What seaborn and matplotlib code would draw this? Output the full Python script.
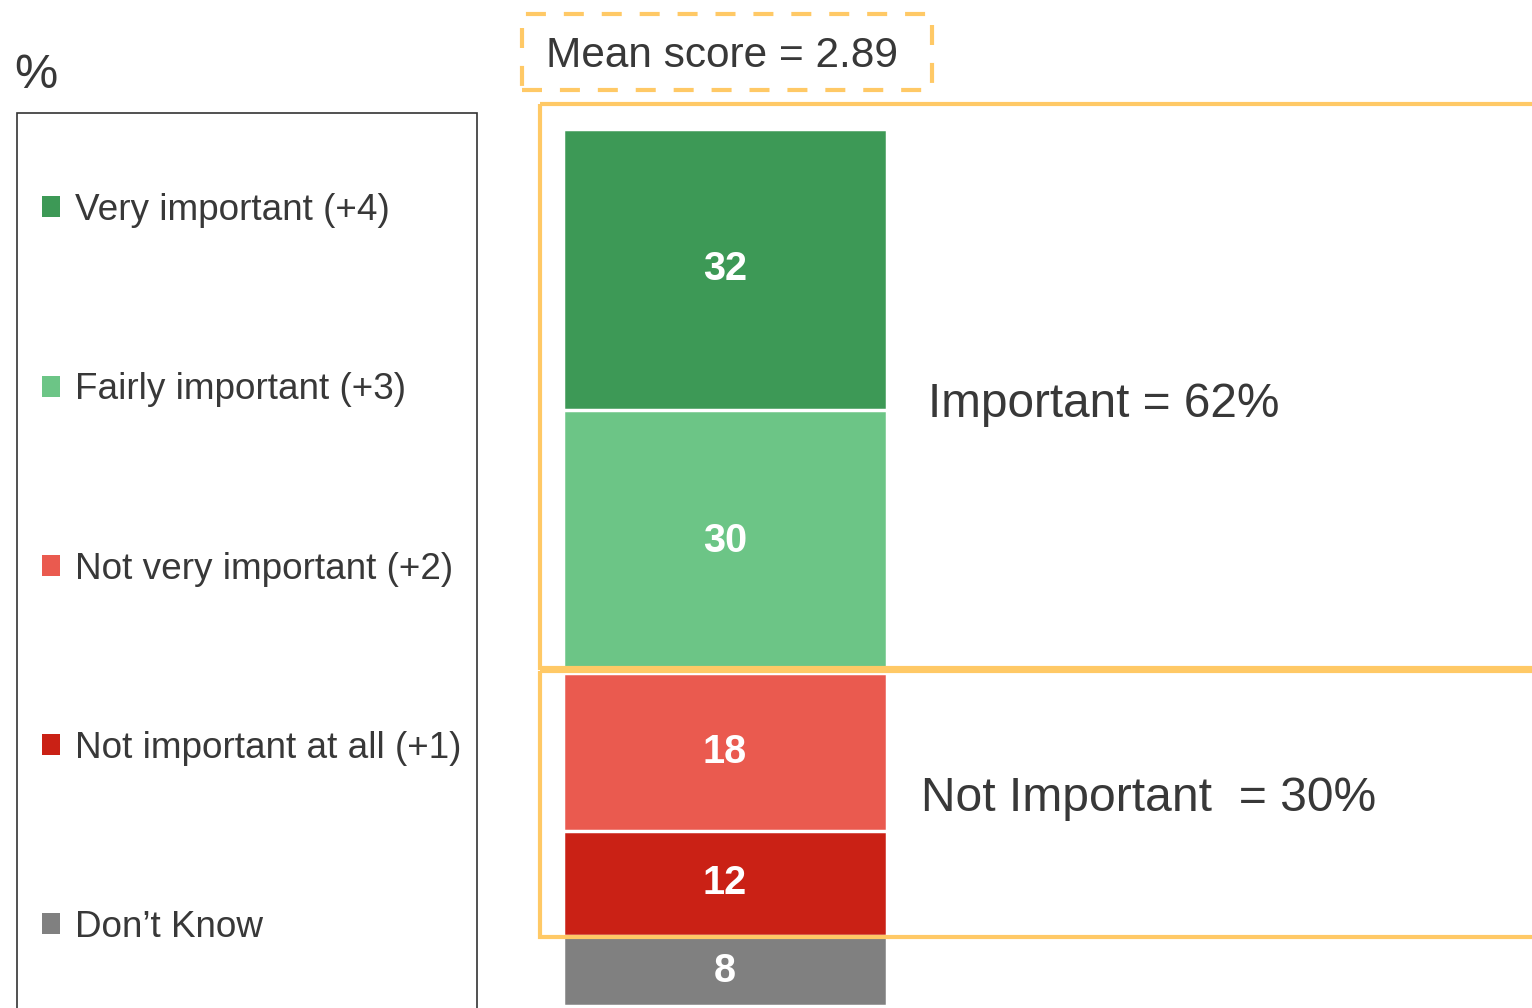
import pandas as pd
import matplotlib.pyplot as plt
import seaborn as sns
from matplotlib.patches import Rectangle, Patch

# chart values
categories = ["Very important (+4)", "Fairly important (+3)", "Not very important (+2)",
              "Not important at all (+1)", "Don\u2019t Know"]
values = [32, 30, 18, 12, 8]
colors = ["#3D9956", "#6CC586", "#EA5A4F", "#CA2115", "#808080"]
mean_score = 2.89
important_pct = 62
not_important_pct = 30

sns.set_style("white")
plt.rcParams['font.family'] = ['Liberation Sans', 'DejaVu Sans']
TXT = "#383838"
ORANGE = "#FFC966"

W, H = 1532, 1008
fig = plt.figure(figsize=(W / 100, H / 100), dpi=100)
ax = fig.add_axes([0, 0, 1, 1])

df = pd.DataFrame({"group": "All", "level": categories, "value": values})
df["top"] = df["value"].cumsum()

# stacked bar: draw cumulative totals from the biggest down
for i in reversed(range(len(df))):
    sns.barplot(data=df.iloc[[i]], x="group", y="top", color=colors[i], saturation=1,
                width=0.81, edgecolor="white", linewidth=2.5, errorbar=None, ax=ax)

for _, row in df.iterrows():
    ax.text(0, row["top"] - row["value"] / 2, str(row["value"]), ha="center", va="center",
            color="white", fontsize=28.5, fontweight="bold")

# axis scale: bar is 320 px wide, 100% spans 877 px
sx, sy, x0, y0 = 400.0, 8.77, 725, 129
ax.set_xlim(-x0 / sx, (W - x0) / sx)
ax.set_ylim((H - y0) / sy, -y0 / sy)
ax.axis("off")

# group boxes
imp_end = df["top"].iloc[1]
not_end = df["top"].iloc[3]
ax.add_patch(Rectangle((-0.4625, -2.85), 3, imp_end - 0.5 + 2.85, fill=False,
                       ec=ORANGE, lw=3))
ax.add_patch(Rectangle((-0.4625, imp_end - 0.2), 3, not_end - imp_end + 0.3, fill=False,
                       ec=ORANGE, lw=3))
ax.text(0.5075, imp_end / 2 + 0.45, f"Important = {important_pct}%", va="center", ha="left",
        fontsize=34.4, color=TXT)
ax.text(0.49, (imp_end + not_end) / 2 - 0.65, f"Not Important  = {not_important_pct}%",
        va="center", ha="left", fontsize=34.6, color=TXT)

# mean score box
fig.patches.append(Rectangle((522 / W, 1 - 90 / H), 410 / W, 76 / H, fill=False, ec=ORANGE,
                             lw=3, ls=(0, (4.8, 4.3)), transform=fig.transFigure))
fig.text(722 / W, 1 - 56 / H, f"Mean score = {mean_score}", ha="center", va="center",
         fontsize=30.5, color=TXT)

fig.text(14 / W, 1 - 76 / H, "%", ha="left", va="center", fontsize=35, color=TXT)

# legend
handles = [Patch(facecolor=c, edgecolor="none") for c in colors]
ax.legend(handles, categories, loc="upper left", bbox_to_anchor=(42 / W, 1 - 193 / H),
          bbox_transform=fig.transFigure, frameon=False, fontsize=26.6, labelcolor=TXT,
          handlelength=0.5, handleheight=0.5, handletextpad=0.4, labelspacing=3.905,
          borderpad=0, borderaxespad=0)
fig.patches.append(Rectangle((17 / W, -0.01), 460 / W, (H - 113) / H + 0.01, fill=False,
                             ec="#333333", lw=1.2, transform=fig.transFigure))

fig.savefig("out.png", dpi=100)
